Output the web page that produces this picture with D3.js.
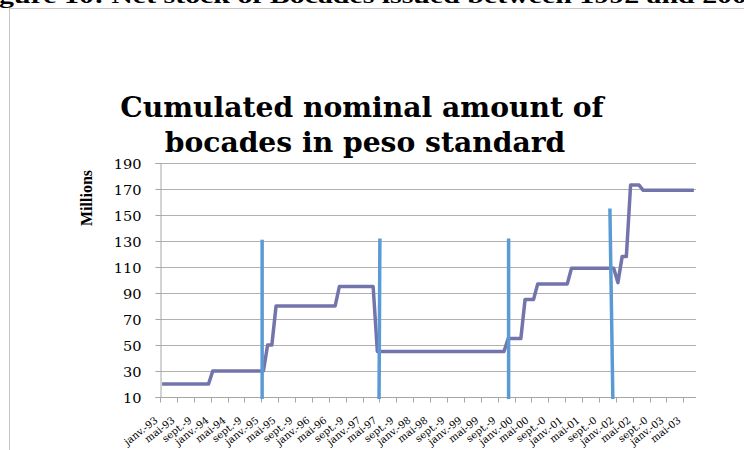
<!DOCTYPE html>
<html>
<head>
<meta charset="utf-8">
<script src="https://cdnjs.cloudflare.com/ajax/libs/d3/7.8.5/d3.min.js"></script>
<style>
  body { margin: 0; background: #fff; }
  svg { display: block; }
</style>
</head>
<body>
<div class="chart"></div>
<script>
var svgWidth = 744;
var svgHeight = 450;

// monthly stock, janv.-93 to juil.-03 (millions)
var stockValues = [
  20, 20, 20, 20, 20, 20, 20, 20, 20, 20, 20, 20,
  30, 30, 30, 30, 30, 30, 30, 30, 30, 30, 30, 30, 30,
  50, 50,
  80, 80, 80, 80, 80, 80, 80, 80, 80, 80, 80, 80, 80, 80, 80,
  95, 95, 95, 95, 95, 95, 95, 95, 95,
  45, 45, 45, 45, 45, 45, 45, 45, 45, 45, 45, 45, 45, 45, 45, 45,
  45, 45, 45, 45, 45, 45, 45, 45, 45, 45, 45, 45, 45, 45, 45,
  55, 55, 55, 55,
  85, 85, 85,
  97, 97, 97, 97, 97, 97, 97, 97,
  109, 109, 109, 109, 109, 109, 109, 109, 109, 109, 109,
  98,
  118, 118,
  173, 173, 173,
  169, 169, 169, 169, 169, 169, 169, 169, 169, 169, 169, 169, 169
];

// one label every 4 months
var tickLabels = [
  "janv.-93", "mai-93", "sept.-9", "janv.-94", "mai-94", "sept.-9",
  "janv.-95", "mai-95", "sept.-9", "janv.-96", "mai-96", "sept.-9",
  "janv.-97", "mai-97", "sept.-9", "janv.-98", "mai-98", "sept.-9",
  "janv.-99", "mai-99", "sept.-9", "janv.-00", "mai-00", "sept.-0",
  "janv.-01", "mai-01", "sept.-0", "janv.-02", "mai-02", "sept.-0",
  "janv.-03", "mai-03"
];

var yTicks = [10, 30, 50, 70, 90, 110, 130, 150, 170, 190];

// hand drawn event markers (month position at top / bottom, height in millions)
var eventTopMonth = [24.2, 52.1, 82.6, 106.6];
var eventBottomMonth = [24.2, 51.9, 82.6, 107.3];
var eventTop = [131, 132, 132, 155];

var plot = { left: 160, right: 696, top: 163, bottom: 397 };

var svg = d3.select(".chart")
  .append("svg")
  .attr("width", svgWidth)
  .attr("height", svgHeight);

// caption of the page, cut by the top edge as in the scan
svg.append("text")
  .attr("x", -1)
  .attr("y", 3)
  .attr("font-family", "Liberation Serif")
  .attr("font-weight", "bold")
  .attr("font-size", 22)
  .attr("textLength", 748)
  .attr("lengthAdjust", "spacingAndGlyphs")
  .text("gure 10: Net stock of Bocades issued between 1992 and 200");

// chart frame
svg.append("rect")
  .attr("x", 9.5)
  .attr("y", 8.5)
  .attr("width", 800)
  .attr("height", 500)
  .attr("fill", "none")
  .attr("stroke", "#c6c6c6")
  .attr("stroke-width", 1);

var x = d3.scaleLinear()
  .domain([0, stockValues.length])
  .range([plot.left, plot.right]);

var y = d3.scaleLinear()
  .domain([10, 190])
  .range([plot.bottom, plot.top]);

// gridlines
svg.append("g")
  .selectAll("line")
  .data(yTicks.slice(1))
  .enter().append("line")
    .attr("x1", plot.left)
    .attr("x2", plot.right)
    .attr("y1", d => Math.round(y(d)) + 0.5)
    .attr("y2", d => Math.round(y(d)) + 0.5)
    .attr("stroke", "#b0b0b0");

// y axis
var leftAxis = d3.axisLeft(y)
  .tickValues(yTicks)
  .tickSize(5)
  .tickPadding(14);

var yAxis = svg.append("g")
  .attr("transform", `translate(${plot.left + 0.5}, 0)`)
  .call(leftAxis);

yAxis.select(".domain").attr("stroke", "#a6a6a6");
yAxis.selectAll(".tick line").attr("stroke", "#a6a6a6");
yAxis.selectAll(".tick text")
  .attr("font-family", "DejaVu Serif")
  .attr("font-size", 13)
  .attr("fill", "#000")
  .attr("x", -17)
  .attr("dy", "0.45em")
  .attr("transform", "scale(1.12,1)");

// x axis
var xAxis = svg.append("g")
  .attr("transform", `translate(0, ${plot.bottom + 0.5})`);

xAxis.append("line")
  .attr("x1", plot.left)
  .attr("x2", plot.right)
  .attr("stroke", "#a6a6a6");

var xTick = xAxis.selectAll(".xtick")
  .data(tickLabels)
  .enter().append("g")
    .attr("class", "xtick")
    .attr("transform", (d, i) => `translate(${Math.round(x(i * 4)) + 0.5}, 0)`);

xTick.append("line")
  .attr("y2", 5)
  .attr("stroke", "#a6a6a6");

xTick.append("text")
  .attr("transform", "translate(-2, 24) rotate(-38)")
  .attr("text-anchor", "end")
  .attr("font-family", "DejaVu Serif")
  .attr("font-size", 10)
  .attr("fill", "#000")
  .text(d => d);

// axis title
svg.append("text")
  .attr("transform", "translate(92, 198) rotate(-90)")
  .attr("text-anchor", "middle")
  .attr("font-family", "Liberation Serif")
  .attr("font-weight", "bold")
  .attr("font-size", 16)
  .text("Millions");

// chart title
var title = svg.append("text")
  .attr("text-anchor", "middle")
  .attr("font-family", "DejaVu Serif")
  .attr("font-weight", "bold")
  .attr("font-size", 28.2)
  .attr("fill", "#000");

title.append("tspan").attr("x", 362).attr("y", 117).text("Cumulated nominal amount of");
title.append("tspan").attr("x", 365).attr("y", 152).text("bocades in peso standard");

// stock line
var drawLine = d3.line()
  .x((d, i) => x(i + 0.5))
  .y(d => y(d));

svg.append("path")
  .attr("d", drawLine(stockValues))
  .attr("fill", "none")
  .attr("stroke", "#7474ac")
  .attr("stroke-width", 3.5)
  .attr("stroke-linejoin", "round");

// event markers
svg.append("g")
  .selectAll("line")
  .data(eventTop)
  .enter().append("line")
    .attr("x1", (d, i) => x(eventTopMonth[i]))
    .attr("x2", (d, i) => x(eventBottomMonth[i]))
    .attr("y1", d => y(d))
    .attr("y2", y(8.5))
    .attr("stroke", "#5b9bd5")
    .attr("stroke-width", 3.5);
</script>
</body>
</html>
